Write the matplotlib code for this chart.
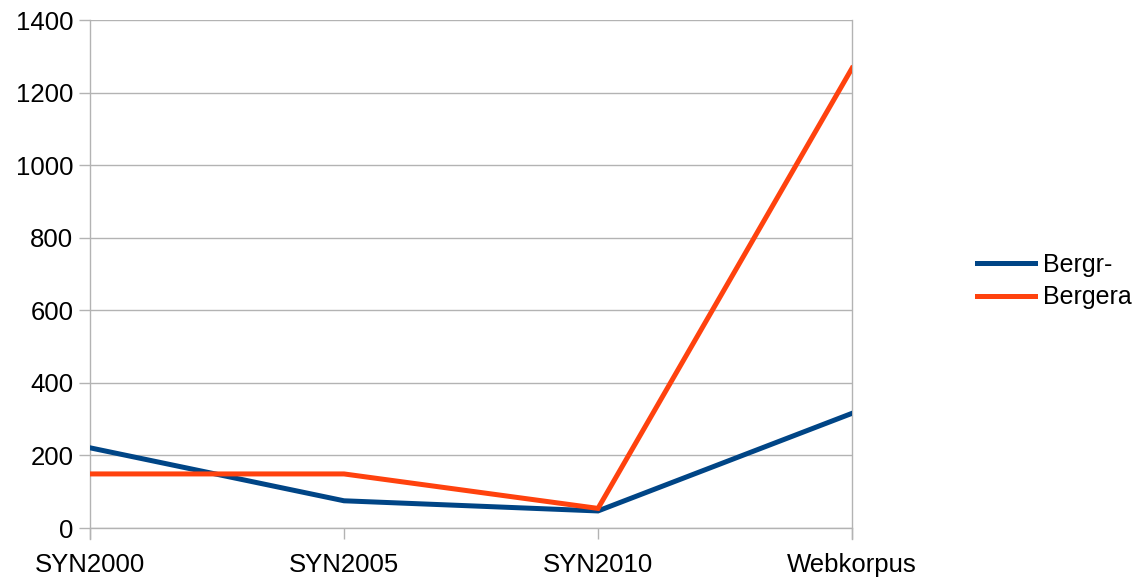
import matplotlib.pyplot as plt

corpora = ['SYN2000', 'SYN2005', 'SYN2010', 'Webkorpus']
bergr = [221, 75, 47, 316]
bergera = [149, 149, 54, 1267]
yticks = [0, 200, 400, 600, 800, 1000, 1200, 1400]

plt.rcParams['font.family'] = ['Liberation Sans', 'DejaVu Sans']

fig = plt.figure(figsize=(11.44, 5.78), dpi=100)
ax = fig.add_axes([90 / 1144, 50 / 578, 762 / 1144, 508 / 578])

x = range(len(corpora))
ax.plot(x, bergr, color='#004586', lw=3.6, label='Bergr-', solid_joinstyle='miter', zorder=3)
ax.plot(x, bergera, color='#ff420e', lw=3.6, label='Bergera', solid_joinstyle='miter', zorder=3)

ax.set_xlim(0, 3)
ax.set_ylim(0, 1400)
ax.set_yticks(yticks)
ax.set_xticks(list(x))
ax.set_xticklabels(corpora)
ax.yaxis.grid(True, color='#b3b3b3', lw=1)
ax.set_axisbelow(True)

for side in ['left', 'right', 'bottom']:
    ax.spines[side].set_color('#b3b3b3')
    ax.spines[side].set_linewidth(1)
ax.spines['top'].set_visible(False)
ax.spines['left'].set_bounds(-30, 1400)
ax.spines['right'].set_bounds(-30, 1400)

ax.tick_params(axis='both', colors='#b3b3b3', labelcolor='black', labelsize=18.5, length=8, width=1)
ax.tick_params(axis='x', pad=10)
ax.tick_params(axis='y', pad=4)

fig.legend(loc='center left', bbox_to_anchor=(977 / 1144, 1 - 281 / 578), frameon=False,
           borderpad=0, borderaxespad=0, fontsize=18, handlelength=2.3,
           handletextpad=0.35, labelspacing=0.35)

fig.savefig('out.png', dpi=100)
